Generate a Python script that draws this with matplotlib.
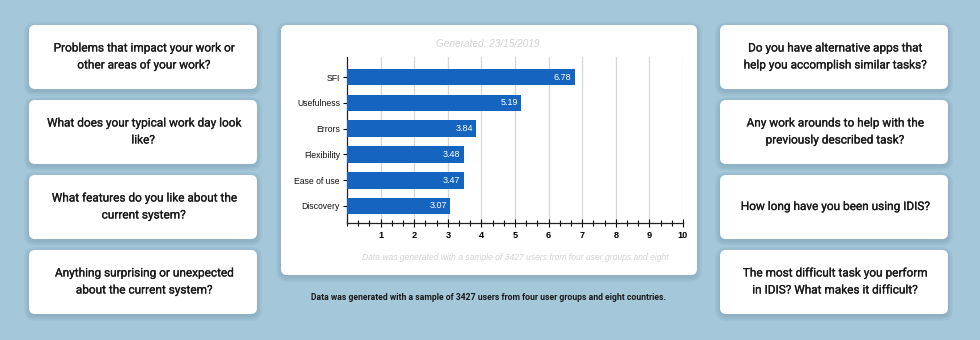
import matplotlib
matplotlib.use("Agg")
import matplotlib.pyplot as plt
import matplotlib.patheffects as pe
from matplotlib.patches import FancyBboxPatch
from matplotlib.ticker import MultipleLocator

# survey scores
categories = ["Discovery", "Ease of use", "Flexibility", "Errors", "Usefulness", "SFI"]
scores = [3.07, 3.47, 3.48, 3.84, 5.19, 6.78]

left_questions = [
    "Problems that impact your work or\nother areas of your work?",
    "What does your typical work day look\nlike?",
    "What features do you like about the\ncurrent system?",
    "Anything surprising or unexpected\nabout the current system?",
]
right_questions = [
    "Do you have alternative apps that\nhelp you accomplish similar tasks?",
    "Any work arounds to help with the\npreviously described task?",
    "How long have you been using IDIS?",
    "The most difficult task you perform\nin IDIS? What makes it difficult?",
]

generated = "Generated: 23/15/2019"
note = "Data was generated with a sample of 3427 users from four user groups and eight"
caption = "Data was generated with a sample of 3427 users from four user groups and eight countries."

BG = "#a4c7d9"
BAR = "#1565c0"
W, H = 980, 340

fig = plt.figure(figsize=(W / 100, H / 100), dpi=100, facecolor=BG)
bg = fig.add_axes([0, 0, 1, 1])
bg.set_xlim(0, W)
bg.set_ylim(H, 0)
bg.axis("off")
bg.set_facecolor(BG)


def card(x0, y0, w, h, r=6):
    # soft drop shadow
    for i in range(4):
        grow = 0.5 + i * 1.5
        bg.add_patch(FancyBboxPatch((x0 - grow, y0 - grow + 2), w + 2 * grow, h + 2 * grow,
                                    boxstyle=f"round,pad=0,rounding_size={r + grow}",
                                    fc="#2a4a5c", ec="none", alpha=0.045, zorder=1))
    bg.add_patch(FancyBboxPatch((x0, y0), w, h, boxstyle=f"round,pad=0,rounding_size={r}",
                                fc="white", ec="none", zorder=2))


# thin outline to give the regular face a medium weight
medium = [pe.withStroke(linewidth=0.18, foreground="#1a1a1a")]

tops = [25, 100, 175, 250]
card_h = 64
for col_x, questions in [(29, left_questions), (720, right_questions)]:
    for top, q in zip(tops, questions):
        card(col_x, top, 228, card_h)
        bg.text(col_x + 114, top + card_h / 2 - 0.5, q, ha="center", va="center",
                family="Roboto", weight="normal", fontsize=8.5, color="#1a1a1a",
                linespacing=1.4, path_effects=medium, zorder=3)

# chart panel
card(281, 25, 416, 250)
bg.text(488, 44, generated, ha="center", va="center", style="italic",
        family="Liberation Sans", fontsize=7.2, color="#d2d2d2", zorder=3)
bg.text(515, 257, note, ha="center", va="center", style="italic",
        family="Liberation Sans", fontsize=6.15, color="#d2d2d2", zorder=3)
bg.text(488, 297, caption, ha="center", va="center", weight="bold",
        family="Roboto", fontsize=6.2, color="#1a1a1a", zorder=3)

ax = fig.add_axes([347 / W, 117 / H, 336 / W, 166 / H])
ax.set_facecolor("none")
ypos = list(range(len(categories)))
ax.barh(ypos, scores, height=0.65, color=BAR, zorder=3)
for y, v in zip(ypos, scores):
    ax.text(v - 0.1, y, f"{v:.2f}", ha="right", va="center", color="white",
            family="Liberation Sans", fontsize=6.5, zorder=4)

ax.set_xlim(0, 10)
ax.set_ylim(-0.66, 5.78)
ax.set_yticks(ypos)
ax.set_yticklabels(categories, family="Liberation Sans", fontsize=6.2, color="#111111")
ax.xaxis.set_minor_locator(MultipleLocator(1 / 3))
ax.set_xticks(range(1, 11))
ax.set_xticklabels([str(i) for i in range(1, 11)], family="Liberation Sans",
                   fontsize=6.6, weight="bold")
ax.tick_params(axis="x", which="major", direction="inout", length=6, width=0.8, pad=3)
ax.tick_params(axis="x", which="minor", direction="inout", length=4, width=0.8)
ax.tick_params(axis="y", direction="inout", length=6, width=0.8, pad=2)
ax.grid(axis="x", which="major", color="#d6d6d6", linewidth=0.9, zorder=0)
for s in ["top", "right"]:
    ax.spines[s].set_visible(False)
for s in ["left", "bottom"]:
    ax.spines[s].set_linewidth(0.9)
    ax.spines[s].set_color("#222222")

fig.savefig("out.png", dpi=100, facecolor=BG)
